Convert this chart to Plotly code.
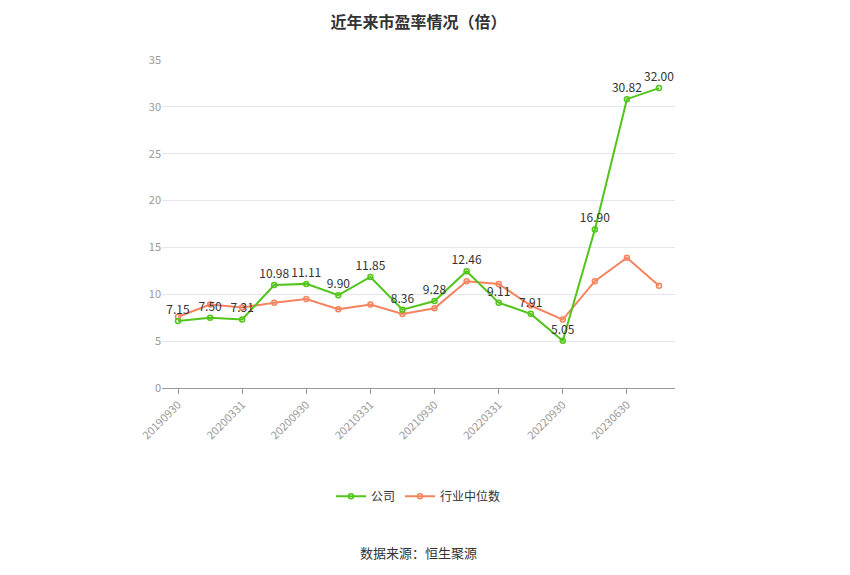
import plotly.graph_objects as go

dates = ["20190930", "20191231", "20200331", "20200630", "20200930", "20201231",
         "20210331", "20210630", "20210930", "20211231", "20220331", "20220630",
         "20220930", "20230331", "20230630", "20230930"]
company = [7.15, 7.50, 7.31, 10.98, 11.11, 9.90, 11.85, 8.36, 9.28, 12.46,
           9.11, 7.91, 5.05, 16.90, 30.82, 32.00]
industry = [7.6, 8.9, 8.6, 9.1, 9.5, 8.4, 8.9, 7.9, 8.5, 11.4, 11.1, 8.8,
            7.3, 11.4, 13.9, 10.9]
tick_labels = dates[::2]

green = "#52c41a"
orange = "#f4845f"

fig = go.Figure()
fig.add_trace(go.Scatter(
    x=dates, y=industry, name="行业中位数", mode="lines+markers",
    line=dict(color=orange, width=2),
    marker=dict(symbol="circle-open", size=5, color=orange, line=dict(width=1.5)),
))
fig.add_trace(go.Scatter(
    x=dates, y=company, name="公司", mode="lines+markers+text",
    line=dict(color=green, width=2),
    marker=dict(symbol="circle-open", size=5, color=green, line=dict(width=1.5)),
    text=[f"{v:.2f}" for v in company], textposition="top center",
    textfont=dict(size=12, color="#333"),
))

fig.update_layout(
    width=850, height=575,
    paper_bgcolor="white", plot_bgcolor="white",
    font=dict(family="Noto Sans CJK SC, sans-serif", color="#666"),
    title=dict(text="<b>近年来市盈率情况（倍）</b>", x=0.5, xref="paper", y=0.985,
               font=dict(size=16, color="#333")),
    margin=dict(l=154, r=183, t=52, b=195),
    showlegend=True,
    legend=dict(orientation="h", x=0.5, xanchor="center", y=-0.33,
                yanchor="middle", traceorder="reversed",
                font=dict(size=12, color="#333")),
    annotations=[dict(text="数据来源：恒生聚源", x=0.5, xref="paper",
                      y=-0.5, yref="paper", yanchor="middle", showarrow=False,
                      font=dict(size=13, color="#333"))],
)
fig.update_xaxes(
    type="category", range=[-0.5, 15.5], tickmode="array",
    tickvals=tick_labels, ticktext=tick_labels, tickangle=-45,
    showline=True, linecolor="#999", ticks="outside", tickcolor="#999",
    showgrid=False, tickfont=dict(size=11, color="#999"),
)
fig.update_yaxes(
    range=[0, 35], dtick=5, showgrid=True, gridcolor="#e6e6ee",
    zeroline=False, tickfont=dict(size=11, color="#999"),
)

fig.write_html("out.html")
